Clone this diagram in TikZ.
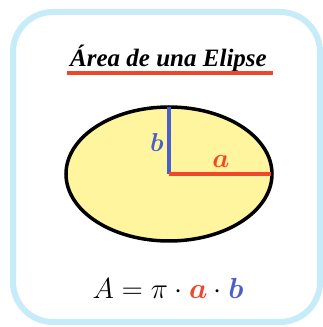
\documentclass[tikz,border=0pt]{standalone}
\usepackage{graphicx}
\usepackage{amsmath}
\usepackage{bm}
\usepackage{fontspec}
\newfontfamily\titlefont{Liberation Serif}
\definecolor{framebl}{HTML}{C6EBF9}
\definecolor{ellfill}{HTML}{FFF59E}
\definecolor{redl}{HTML}{F0462A}
\definecolor{bluel}{HTML}{4B5FCB}
\newcommand{\scaledmath}[2]{\scalebox{#1}{\fontsize{20.74}{24}\selectfont #2}}
\begin{document}
\begin{tikzpicture}[x=1pt,y=1pt,
  frame/.style={draw=framebl,line width=6pt,rounded corners=40pt},
  seg/.style={line width=4pt},
  lbl/.style={inner sep=0pt,anchor=base}]
\useasboundingbox (0,0) rectangle (323,327);
\fill[white] (0,0) rectangle (323,327);
\draw[frame] (13,5) rectangle (320,315);
\node[inner sep=0pt,anchor=base] (title) at (168.5,260) {\titlefont\bfseries\itshape\fontsize{25}{28}\selectfont Área de una Elipse};
\draw[redl,line width=4pt] (67,253.5) -- (273,253.5);
\draw[black,fill=ellfill,line width=3.5pt] (169,153) ellipse [x radius=103, y radius=67];
\coordinate (O) at (169,153);
\coordinate (A) at (271,153);
\coordinate (B) at (169,220);
\draw[seg,bluel] (O) -- (B);
\draw[seg,redl] (O) -- (A);
\node[lbl,text=bluel] (lb) at (157,175) {\scaledmath{1.25}{$\bm{b}$}};
\node[lbl,text=redl] (la) at (221,159) {\scaledmath{1.3}{$\bm{a}$}};
\node[inner sep=0pt,anchor=base] (form) at (168,29) {\scaledmath{1.4}{$A=\pi\cdot{\color{redl}\bm{a}}\cdot{\color{bluel}\bm{b}}$}};
\end{tikzpicture}
\end{document}
